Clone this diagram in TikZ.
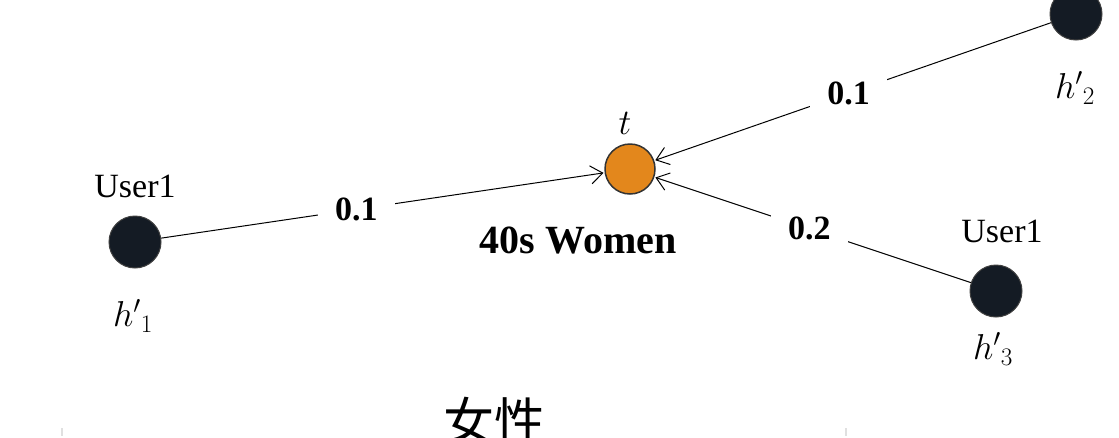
\RequirePackage{fix-cm}
\documentclass[tikz,border=0pt]{standalone}
\usepackage{fontspec}
\setmainfont{Liberation Serif}
\newfontfamily\cjkfont{Noto Sans CJK SC}
\usetikzlibrary{arrows.meta}
\definecolor{userdark}{HTML}{141B24}
\definecolor{tagorange}{HTML}{E3871C}

\begin{document}
\begin{tikzpicture}[x=1pt, y=-1pt, shorten >=1pt,
    >={Straight Barb[length=12pt,width=18pt]},
    user/.style={circle, draw=black!75, line width=1pt, fill=userdark, minimum size=52pt, inner sep=0pt},
    tag/.style={circle, draw=black!80, line width=1.5pt, fill=tagorange, minimum size=50pt, inner sep=0pt},
    wt/.style={fill=white, inner xsep=17pt, inner ysep=3pt, font=\fontsize{34}{40}\selectfont\bfseries},
    txt/.style={font=\fontsize{34}{40}\selectfont},
    mth/.style={font=\fontsize{36}{42}\selectfont}]
    \useasboundingbox (0,0) rectangle (1119,437);

    \node[tag] (t) at (630,169) {};
    \node[user] (h1) at (135,242) {};
    \node[user] (h2) at (1076,14) {};
    \node[user] (h3) at (996,291) {};

    \node[mth] (tt) at (625,123) {$t$};
    \node[font=\fontsize{40}{46}\selectfont\bfseries] (tname) at (578,240) {40s Women};
    \node[txt] (u1) at (135,186) {User1};
    \node[txt] (u3) at (1002,231) {User1};
    \node[mth] (l1) at (133,316) {${h'}_1$};
    \node[mth] (l2) at (1075,88) {${h'}_2$};
    \node[mth] (l3) at (993,349) {${h'}_3$};
    \node[font=\fontsize{51}{56}\selectfont\cjkfont] (gender) at (494,421) {女性};

    \path[->, line width=1pt]
        (h1) edge node[wt, pos=0.44] {0.1} (t)
        (h2) edge node[wt, pos=0.51] {0.1} (t)
        (h3) edge node[wt, pos=0.51] {0.2} (t);

    % faint ticks at the bottom edge
    \draw[black!12, line width=1.5pt] (62,428) -- (62,437);
    \draw[black!12, line width=1.5pt] (846,428) -- (846,437);
\end{tikzpicture}
\end{document}
